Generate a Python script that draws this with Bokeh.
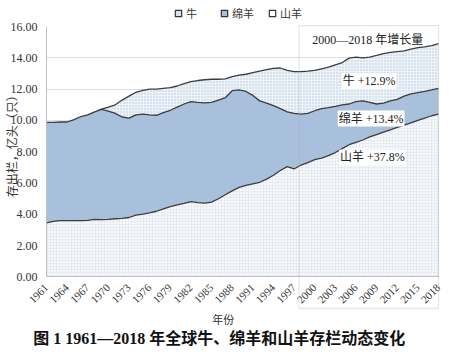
import math
from bokeh.plotting import figure
from bokeh.models import (Range1d, FixedTicker, NumeralTickFormatter, Label,
                          PolyAnnotation, Legend, LegendItem, ColumnDataSource)
from bokeh.embed import file_html
from bokeh.resources import INLINE

# ---------------- data (亿头/只) ----------------
years = list(range(1961, 2019))
cattle = [9.40, 9.55, 9.70, 9.85, 10.00, 10.15, 10.30, 10.50, 10.72, 10.85,
          11.00, 11.30, 11.55, 11.80, 11.92, 12.00, 12.00, 12.05, 12.10, 12.20,
          12.35, 12.48, 12.55, 12.60, 12.63, 12.63, 12.65, 12.80, 12.90, 12.95,
          13.05, 13.15, 13.25, 13.33, 13.35, 13.20, 13.12, 13.12, 13.15, 13.20,
          13.30, 13.40, 13.55, 13.70, 13.98, 14.05, 14.00, 14.05, 14.15, 14.27,
          14.35, 14.40, 14.45, 14.55, 14.65, 14.70, 14.78, 14.90]
sheep = [9.88, 9.88, 9.90, 9.90, 10.05, 10.25, 10.35, 10.55, 10.70, 10.60,
         10.45, 10.22, 10.15, 10.35, 10.40, 10.35, 10.33, 10.50, 10.65, 10.85,
         11.05, 11.20, 11.15, 11.12, 11.15, 11.30, 11.45, 11.90, 11.95, 11.85,
         11.60, 11.25, 11.10, 10.95, 10.75, 10.55, 10.45, 10.40, 10.45, 10.62,
         10.75, 10.82, 10.90, 11.00, 11.05, 11.20, 11.25, 11.15, 11.05, 11.10,
         11.25, 11.35, 11.55, 11.70, 11.78, 11.85, 11.95, 12.05]
goat = [3.45, 3.55, 3.60, 3.60, 3.60, 3.60, 3.62, 3.68, 3.67, 3.68,
        3.72, 3.75, 3.80, 3.95, 4.02, 4.10, 4.20, 4.35, 4.50, 4.60,
        4.70, 4.82, 4.75, 4.72, 4.78, 5.00, 5.25, 5.50, 5.72, 5.85,
        5.95, 6.05, 6.25, 6.50, 6.80, 7.05, 6.90, 7.15, 7.30, 7.50,
        7.60, 7.75, 7.95, 8.20, 8.45, 8.60, 8.75, 8.95, 9.10, 9.25,
        9.40, 9.55, 9.70, 9.85, 10.00, 10.15, 10.30, 10.40]
series_names = ["牛", "绵羊", "山羊"]
growth_labels = ["牛 +12.9%", "绵羊 +13.4%", "山羊 +37.8%"]
growth_label_x = [2007.9, 2008.2, 2008.4]
growth_label_y = [12.52, 10.12, 7.64]
box_title = "2000—2018 年增长量"
box_years = (1997.72, 2018)
x_ticks = list(range(1961, 2019, 3))
y_ticks = [0, 2, 4, 6, 8, 10, 12, 14, 16]
X0, X1 = 1961, 2018
Y0, Y1 = 0, 16

SERIF = "'Liberation Serif', 'Noto Sans CJK SC'"
LINE = "#3c3c3c"
C_CATTLE = "#d7e2ef"
C_SHEEP = "#a9c0dc"
C_GOAT = "#f6f8fb"

src = ColumnDataSource(dict(year=years, cattle=cattle, sheep=sheep, goat=goat))

# The frame covers the whole canvas; axes are pinned at fixed data locations.
p = figure(width=450, height=357, output_backend="svg", toolbar_location=None,
           x_range=Range1d(1954.31, 2019.745), y_range=Range1d(-5.142, 17.661),
           min_border=0)
p.outline_line_color = None
p.background_fill_color = "white"
p.border_fill_color = "white"

# areas (overlapping, drawn back to front) and their edge lines
p.varea(x="year", y1=0, y2="cattle", source=src, fill_color=C_CATTLE,
        hatch_pattern="+", hatch_color="white", hatch_alpha=0.5, hatch_scale=3)
p.line(x="year", y="cattle", source=src, line_color=LINE, line_width=1.3)
p.varea(x="year", y1=0, y2="sheep", source=src, fill_color=C_SHEEP)
p.line(x="year", y="sheep", source=src, line_color=LINE, line_width=1.3)
p.varea(x="year", y1=0, y2="goat", source=src, fill_color=C_GOAT,
        hatch_pattern="+", hatch_color="#dfe6ef", hatch_alpha=0.6, hatch_scale=3)
p.line(x="year", y="goat", source=src, line_color=LINE, line_width=1.3)

# axes
p.xaxis.fixed_location = Y0
p.xaxis.bounds = (X0, X1)
p.xaxis.ticker = FixedTicker(ticks=x_ticks)
p.xaxis.major_label_orientation = math.pi / 4
p.xaxis.major_label_text_font = SERIF
p.xaxis.major_label_text_font_size = "11px"
p.xaxis.major_label_text_color = "#333333"
p.yaxis.fixed_location = X0
p.yaxis.bounds = (Y0, Y1)
p.yaxis.ticker = FixedTicker(ticks=y_ticks)
p.yaxis.formatter = NumeralTickFormatter(format="0.00")
p.yaxis.major_label_text_font = SERIF
p.yaxis.major_label_text_font_size = "12px"
p.yaxis.major_label_text_color = "#333333"
for ax in (p.xaxis, p.yaxis):
    ax.axis_line_color = "#c0c0c0"
    ax.major_tick_line_color = None
    ax.minor_tick_line_color = None
    ax.major_label_standoff = 3
p.xgrid.grid_line_color = None
p.ygrid.ticker = FixedTicker(ticks=y_ticks[1:-1])
p.ygrid.grid_line_color = "#dddddd"
g = p.ygrid[0]
if "cross_bounds" in g.properties():
    g.cross_bounds = (X0, X1)
else:
    p.ygrid.grid_line_color = None
    p.segment(x0=[X0] * 7, x1=[X1] * 7, y0=y_ticks[1:-1], y1=y_ticks[1:-1],
              line_color="#dddddd", level="underlay")

# highlight box 2000-2018
bx0, bx1 = box_years
p.add_layout(PolyAnnotation(xs=[bx0, bx1, bx1, bx0],
                            ys=[16.05, 16.05, -2.0, -2.0],
                            fill_alpha=0, line_color="#a8a8a8", line_width=1.2))
p.add_layout(Label(x=2007.7, y=15.14, text=box_title, text_align="center",
                   text_baseline="middle", text_font=SERIF, text_font_size="12px",
                   text_color="#222222"))
for t, lx, ly in zip(growth_labels, growth_label_x, growth_label_y):
    p.add_layout(Label(x=lx, y=ly, text=t, text_align="center", text_baseline="middle",
                       text_font=SERIF, text_font_size="12px", text_color="#222222",
                       background_fill_color="white", padding=1))

# axis titles and caption
p.add_layout(Label(x=1956.2, y=8.55, text="存出栏，亿头（只）", angle=math.pi / 2,
                   text_align="center", text_baseline="middle", text_font=SERIF,
                   text_font_size="12px", text_color="#333333"))
p.add_layout(Label(x=1986.7, y=-2.72, text="年份", text_align="center",
                   text_baseline="middle", text_font=SERIF, text_font_size="11px",
                   text_color="#333333"))
p.add_layout(Label(x=1986.4, y=-3.95, text="图 1  1961—2018 年全球牛、绵羊和山羊存栏动态变化",
                   text_align="center", text_baseline="middle", text_font=SERIF,
                   text_font_size="16px", text_font_style="bold", text_color="#111111"))

# legend (square markers with dark outline)
nan = float("nan")
lg_src = ColumnDataSource(dict(x=[nan], y=[nan]))
lr = []
for col in (C_CATTLE, C_SHEEP, "white"):
    lr.append(p.scatter(x="x", y="y", source=lg_src, marker="square", size=6,
                        fill_color=col, line_color="#333333", line_width=1.2))
legend = Legend(items=[LegendItem(label=n, renderers=[r]) for n, r in zip(series_names, lr)],
                orientation="horizontal", location=(170, 336),
                glyph_width=16, glyph_height=16, label_height=16, label_standoff=0,
                spacing=10, padding=0, margin=0, border_line_color=None,
                background_fill_alpha=0, label_text_font=SERIF,
                label_text_font_size="11px", label_text_color="#333333")
p.add_layout(legend, "center")

open("out.html", "w").write(file_html(p, INLINE))
